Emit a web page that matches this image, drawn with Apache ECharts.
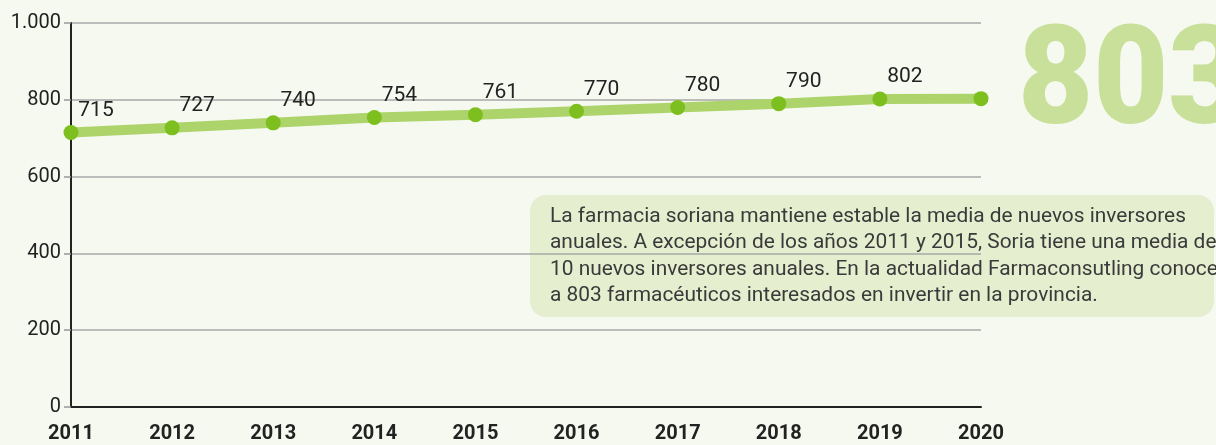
<!DOCTYPE html>
<html>
<head>
<meta charset="utf-8">
<script src="https://cdn.jsdelivr.net/npm/echarts@6/dist/echarts.min.js"></script>
<style>
  html, body { margin: 0; padding: 0; background: #f6f9ef; }
  #chart { width: 1216px; height: 445px; }
</style>
</head>
<body>
<div id="chart"></div>
<script>
const years = ['2011', '2012', '2013', '2014', '2015', '2016', '2017', '2018', '2019', '2020'];
const investors = [715, 727, 740, 754, 761, 770, 780, 790, 802, 803];
const yTicks = [0, 200, 400, 600, 800, 1000];
const bigNumber = '803';
const note = 'La farmacia soriana mantiene estable la media de nuevos inversores\n' +
  'anuales. A excepción de los años 2011 y 2015, Soria tiene una media de\n' +
  '10 nuevos inversores anuales. En la actualidad Farmaconsutling conoce\n' +
  'a 803 farmacéuticos interesados en invertir en la provincia.';

const chart = echarts.init(document.getElementById('chart'));
chart.setOption({
  backgroundColor: '#f6f9ef',
  textStyle: { fontFamily: 'Roboto' },
  grid: { left: 71, right: 235, top: 23, bottom: 38 },
  xAxis: {
    type: 'category',
    data: years,
    boundaryGap: false,
    axisLine: { lineStyle: { color: '#222', width: 2 } },
    axisTick: { show: false },
    axisLabel: { color: '#222', fontSize: 20, fontWeight: 'bold', margin: 17 }
  },
  yAxis: {
    type: 'value',
    min: yTicks[0],
    max: yTicks[yTicks.length - 1],
    interval: 200,
    axisLine: { show: true, lineStyle: { color: '#222', width: 2 } },
    axisTick: { show: true, length: 7, lineStyle: { color: '#999', width: 1.5 } },
    axisLabel: {
      color: '#222', fontSize: 20, margin: 10,
      formatter: v => v >= 1000 ? (v / 1000) + '.' + String(v % 1000).padStart(3, '0') : String(v)
    },
    splitLine: { lineStyle: { color: '#a8a8a8', width: 1.5 } }
  },
  series: [{
    type: 'line',
    data: investors,
    symbol: 'circle',
    symbolSize: 15,
    lineStyle: { color: '#acd46a', width: 10 },
    itemStyle: { color: '#7cbf1e' },
    label: {
      show: true,
      position: 'top',
      offset: [25, 1],
      color: '#222',
      fontSize: 21,
      formatter: p => p.dataIndex === investors.length - 1 ? '' : String(p.value)
    }
  }],
  graphic: [
    {
      type: 'text',
      left: 1018,
      top: 19,
      scaleX: 0.94,
      style: { text: bigNumber, font: '900 138px Roboto', fill: '#c8e09a' }
    },
    {
      type: 'rect',
      left: 530,
      top: 195,
      shape: { width: 684, height: 122, r: 16 },
      style: { fill: '#e5eecf' }
    },
    {
      type: 'text',
      left: 550,
      top: 204,
      scaleX: 1.045,
      style: { text: note, font: '20px Roboto', lineHeight: 26.3, fill: '#3a3a3a' }
    }
  ]
});
</script>
</body>
</html>
